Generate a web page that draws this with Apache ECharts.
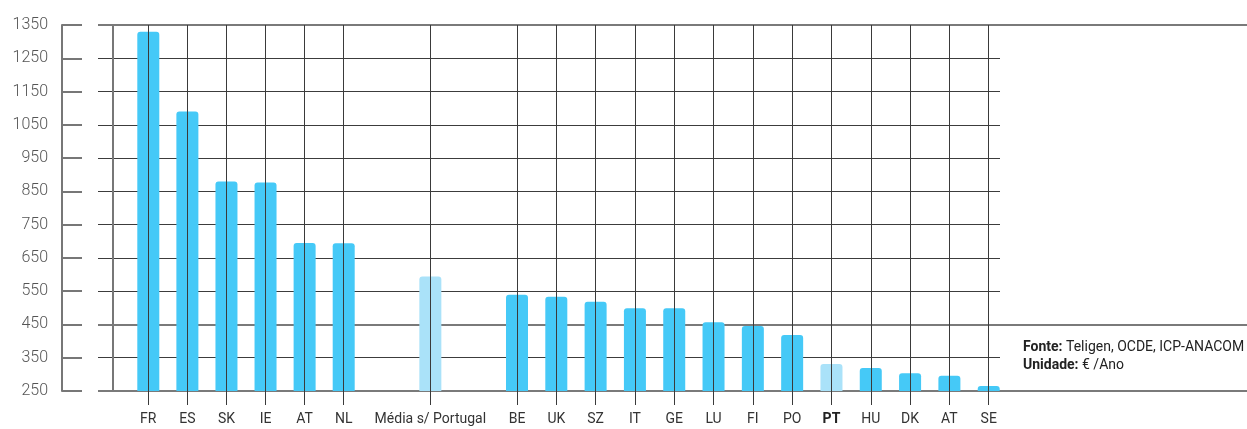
<!DOCTYPE html>
<html>
<head>
<meta charset="utf-8">
<script src="https://cdn.jsdelivr.net/npm/echarts@6/dist/echarts.min.js"></script>
<style>
  html, body { margin: 0; padding: 0; background: #fff; }
  #chart { width: 1247px; height: 429px; }
</style>
</head>
<body>
<div id="chart"></div>
<script>
// Annual price by country (€ / year)
const leftCats = ['FR', 'ES', 'SK', 'IE', 'AT', 'NL'];
const leftVals = [1330, 1090, 880, 877, 695, 694];
const avgLabel = 'Média s/ Portugal';
const avgVal = 594;
const rightCats = ['BE', 'UK', 'SZ', 'IT', 'GE', 'LU', 'FI', 'PO', 'PT', 'HU', 'DK', 'AT', 'SE'];
const rightVals = [539, 533, 518, 499, 499, 457, 445, 418, 331, 319, 303, 296, 265];
const highlighted = ['PT'];          // lighter bar + bold label
const yMin = 250, yMax = 1350, yStep = 100;
const ruleValues = [250, 450, 1350]; // full-width rules
const noteSource = 'Teligen, OCDE, ICP-ANACOM';
const noteUnit = '€ /Ano';

const FONT = 'Roboto, "Noto Sans", sans-serif';
const BLUE = '#45c9f7';
const LIGHT = '#aae2f9';
const TOP = 25, BOTTOM = 38;

const chart = echarts.init(document.getElementById('chart'), null, { renderer: 'canvas' });

function barData(cats, vals) {
  return vals.map((v, i) => ({
    value: v,
    itemStyle: { color: highlighted.includes(cats[i]) ? LIGHT : BLUE }
  }));
}

const bridgeCats = ['', avgLabel, ''];
const bridgeData = [null, { value: avgVal, itemStyle: { color: LIGHT } }, null];

const hiddenX = (g) => ({ type: 'value', gridIndex: g, min: 0, max: 1, show: false });
const hiddenY = (g) => ({ type: 'value', gridIndex: g, min: yMin, max: yMax, interval: yStep, show: false });

function catAxis(g, data, only) {
  const pick = only == null ? 0 : (i) => i === only;
  return {
    type: 'category', gridIndex: g, data: data, boundaryGap: false, z: 5,
    axisLine: { show: false },
    axisTick: { show: true, length: 14, interval: pick, lineStyle: { color: '#3a3a3a', width: 1 } },
    splitLine: { show: true, interval: pick, lineStyle: { color: '#3a3a3a', width: 1 } },
    axisLabel: {
      interval: 0, margin: 21, fontSize: 14, color: '#333', fontFamily: FONT,
      formatter: (v) => highlighted.includes(v) ? '{b|' + v + '}' : v,
      rich: { b: { fontWeight: 'bold', fontSize: 14, color: '#222', fontFamily: FONT } }
    }
  };
}

const option = {
  animation: false,
  backgroundColor: '#fff',
  grid: [
    { left: 98, right: 247, top: TOP, bottom: BOTTOM },            // 0: horizontal grid lines
    { left: 98, right: 0, top: TOP, bottom: BOTTOM },              // 1: full-width rules
    { left: 62, width: 20, top: TOP, bottom: BOTTOM },             // 2: value scale
    { left: 148.3, right: 1247 - 343.7, top: TOP, bottom: BOTTOM },// 3: first group
    { left: 343.7, right: 1247 - 517, top: TOP, bottom: BOTTOM },  // 4: average
    { left: 517, right: 1247 - 988.7, top: TOP, bottom: BOTTOM },  // 5: second group
    { left: 113, width: 10, top: TOP, bottom: BOTTOM }             // 6: plot frame edge
  ],
  xAxis: [
    hiddenX(0), hiddenX(1), hiddenX(2),
    catAxis(3, leftCats),
    catAxis(4, bridgeCats, 1),
    catAxis(5, rightCats),
    hiddenX(6)
  ],
  yAxis: [
    {
      type: 'value', gridIndex: 0, min: yMin, max: yMax, interval: yStep,
      axisLine: { show: false }, axisTick: { show: false }, axisLabel: { show: false },
      splitLine: { show: true, lineStyle: { color: '#3c3c3c', width: 1 } }
    },
    hiddenY(1),
    {
      type: 'value', gridIndex: 2, min: yMin, max: yMax, interval: yStep,
      axisLine: { show: true, lineStyle: { color: '#777', width: 2 } },
      axisTick: { show: true, inside: true, length: 20, lineStyle: { color: '#777', width: 2 } },
      splitLine: { show: false },
      axisLabel: {
        margin: 14, fontSize: 16, color: '#555', fontFamily: FONT, fontWeight: 300,
        formatter: (v) => String(v)
      }
    },
    hiddenY(3), hiddenY(4), hiddenY(5),
    {
      type: 'value', gridIndex: 6, min: yMin, max: yMax, interval: yStep,
      axisLine: { show: true, lineStyle: { color: '#777', width: 2 } },
      axisTick: { show: false }, axisLabel: { show: false }, splitLine: { show: false }
    }
  ],
  series: [
    {
      type: 'line', xAxisIndex: 1, yAxisIndex: 1, data: [], silent: true,
      markLine: {
        z: 1, silent: true, symbol: ['none', 'none'], animation: false,
        label: { show: false },
        lineStyle: { color: '#7a7a7a', width: 2, type: 'solid' },
        data: ruleValues.map((v) => ({ yAxis: v }))
      }
    },
    {
      type: 'bar', xAxisIndex: 3, yAxisIndex: 3, barWidth: 22, z: 2,
      itemStyle: { borderRadius: [3, 3, 0, 0] },
      data: barData(leftCats, leftVals)
    },
    {
      type: 'bar', xAxisIndex: 4, yAxisIndex: 4, barWidth: 22, z: 2,
      itemStyle: { borderRadius: [3, 3, 0, 0] },
      data: bridgeData
    },
    {
      type: 'bar', xAxisIndex: 5, yAxisIndex: 5, barWidth: 22, z: 2,
      itemStyle: { borderRadius: [3, 3, 0, 0] },
      data: barData(rightCats, rightVals)
    }
  ],
  graphic: [
    {
      type: 'text', left: 1023, top: 338, z: 10,
      style: {
        text: '{b|Fonte:} ' + noteSource + '\n{b|Unidade:} ' + noteUnit,
        fontSize: 14, fontFamily: FONT, fill: '#222', lineHeight: 18,
        rich: { b: { fontWeight: 'bold', fontSize: 14, fontFamily: FONT, fill: '#222', lineHeight: 18 } }
      }
    }
  ]
};

chart.setOption(option);
</script>
</body>
</html>
